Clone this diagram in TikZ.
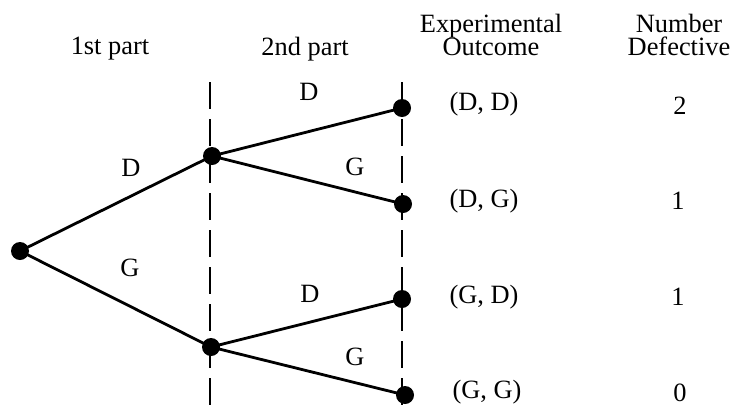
\documentclass[tikz,border=0pt]{standalone}
\usepackage{fontspec}
\setmainfont{Liberation Serif}

\begin{document}
\begin{tikzpicture}[x=1bp,y=-1bp,
    dot/.style={circle,fill=black,inner sep=0pt,minimum size=18bp},
    branch/.style={line width=2.8bp},
    divider/.style={line width=2.8bp,dash pattern=on 27bp off 10bp},
    lbl/.style={font=\fontsize{26.5}{23.5}\selectfont,inner sep=0pt,align=center}]
    \useasboundingbox (0,0) rectangle (733,407);

    % Column headings
    \node[lbl] (first) at (110,49) {1st part};
    \node[lbl] (second) at (305,49) {2nd part};
    \node[lbl] (outcome) at (491,35) {Experimental\\Outcome};
    \node[lbl] (defect) at (679,35) {Number\\Defective};

    % Stage dividers
    \coordinate (d1top) at (210,82);
    \coordinate (d1bot) at (210,407);
    \coordinate (d2top) at (402,82);
    \coordinate (d2bot) at (402,407);
    \draw[divider] (d1top) -- (d1bot);
    \draw[divider] (d2top) -- (d2bot);

    % Tree
    \node[dot] (root) at (20,251) {};
    \node[dot] (d) at (212,156) {};
    \node[dot] (g) at (211,347) {};
    \node[dot] (dd) at (402,108) {};
    \node[dot] (dg) at (403,204) {};
    \node[dot] (gd) at (402,299) {};
    \node[dot] (gg) at (405,395) {};
    \draw[branch] (root.center) -- (d.center);
    \draw[branch] (root.center) -- (g.center);
    \draw[branch] (d.center) -- (dd.center);
    \draw[branch] (d.center) -- (dg.center);
    \draw[branch] (g.center) -- (gd.center);
    \draw[branch] (g.center) -- (gg.center);

    % Branch labels
    \node[lbl] (lD) at (131,168) {D};
    \node[lbl] (lG) at (130,268) {G};
    \node[lbl] (lDD) at (309,92) {D};
    \node[lbl] (lDG) at (355,167) {G};
    \node[lbl] (lGD) at (310,294) {D};
    \node[lbl] (lGG) at (355,357) {G};

    % Outcomes and counts
    \node[lbl] (oDD) at (484,104) {(D, D)};
    \node[lbl] (oDG) at (484,201) {(D, G)};
    \node[lbl] (oGD) at (484,297) {(G, D)};
    \node[lbl] (oGG) at (487,392) {(G, G)};
    \node[lbl] (nDD) at (680,106) {2};
    \node[lbl] (nDG) at (678,201) {1};
    \node[lbl] (nGD) at (678,297) {1};
    \node[lbl] (nGG) at (680,393) {0};
\end{tikzpicture}
\end{document}
